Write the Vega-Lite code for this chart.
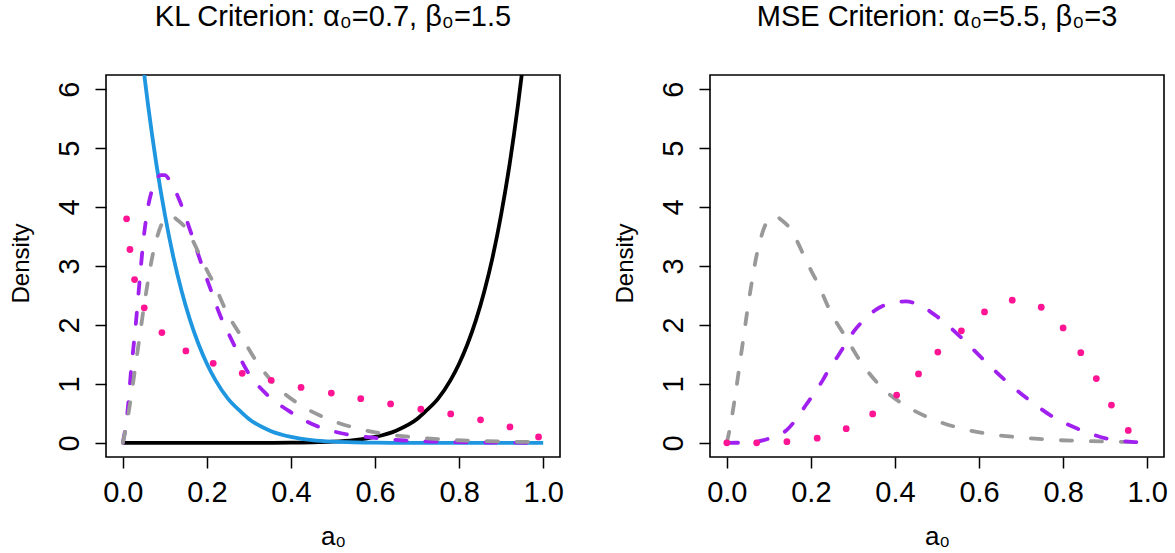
{
  "$schema": "https://vega.github.io/schema/vega-lite/v6.json",
  "background": "white",
  "padding": {"left": 8, "top": 2, "right": 0, "bottom": 0},
  "bounds": "flush",
  "spacing": 150,
  "config": {
    "font": "Liberation Sans",
    "view": {"stroke": "black", "strokeWidth": 1.6},
    "axis": {
      "grid": false, "domain": false, "tickColor": "black", "tickWidth": 1.5, "tickSize": 11,
      "labelColor": "black", "labelFont": "Liberation Sans", "labelFontSize": 29, "labelFlush": false, "labelOverlap": false,
      "titleFont": "Liberation Sans", "titleFontSize": 24, "titleFontWeight": "normal", "titleColor": "black"
    },
    "axisX": {"labelBaseline": "alphabetic", "labelPadding": 33, "titleX": 227, "titleY": 87.5, "titleBaseline": "alphabetic", "titleFontSize": 26},
    "axisY": {"labelAngle": -90, "labelAlign": "center", "labelBaseline": "alphabetic", "labelPadding": 16.5, "titleX": -77.7, "titleY": 188, "titleBaseline": "alphabetic", "titleAngle": -90, "titleAlign": "center"},
    "title": {"font": "Liberation Sans", "fontSize": 29, "fontWeight": "normal", "color": "black", "anchor": "middle", "frame": "group", "baseline": "alphabetic", "offset": 43}
  },
  "datasets": {
    "black": [
      {"a": 0, "d": 0}, {"a": 0.3, "d": 0.0002}, {"a": 0.4, "d": 0.0026}, {"a": 0.45, "d": 0.0076},
      {"a": 0.5, "d": 0.0195}, {"a": 0.55, "d": 0.046}, {"a": 0.6, "d": 0.101}, {"a": 0.65, "d": 0.207},
      {"a": 0.7, "d": 0.404}, {"a": 0.72, "d": 0.533}, {"a": 0.75, "d": 0.751}, {"a": 0.78, "d": 1.069},
      {"a": 0.8, "d": 1.342}, {"a": 0.82, "d": 1.676}, {"a": 0.84, "d": 2.082}, {"a": 0.86, "d": 2.573},
      {"a": 0.88, "d": 3.16}, {"a": 0.9, "d": 3.874}, {"a": 0.92, "d": 4.72}, {"a": 0.94, "d": 5.73},
      {"a": 0.95, "d": 6.302}, {"a": 0.96, "d": 6.925}, {"a": 0.98, "d": 8.337}, {"a": 1.0, "d": 10}
    ],
    "blue": [
      {"a": 0, "d": 10}, {"a": 0.02, "d": 8.337}, {"a": 0.04, "d": 6.925}, {"a": 0.05, "d": 6.302},
      {"a": 0.06, "d": 5.73}, {"a": 0.08, "d": 4.72}, {"a": 0.1, "d": 3.874}, {"a": 0.12, "d": 3.16},
      {"a": 0.14, "d": 2.573}, {"a": 0.16, "d": 2.082}, {"a": 0.18, "d": 1.676}, {"a": 0.2, "d": 1.342},
      {"a": 0.22, "d": 1.069}, {"a": 0.25, "d": 0.751}, {"a": 0.28, "d": 0.533}, {"a": 0.3, "d": 0.404},
      {"a": 0.35, "d": 0.207}, {"a": 0.4, "d": 0.101}, {"a": 0.45, "d": 0.046}, {"a": 0.5, "d": 0.0195},
      {"a": 0.55, "d": 0.0076}, {"a": 0.6, "d": 0.0026}, {"a": 0.7, "d": 0.0002}, {"a": 1.0, "d": 0}
    ],
    "purpleKL": [
      {"a": 0, "d": 0}, {"a": 0.01, "d": 0.45}, {"a": 0.02, "d": 1.25}, {"a": 0.03, "d": 1.95},
      {"a": 0.04, "d": 2.75}, {"a": 0.05, "d": 3.5}, {"a": 0.06, "d": 4.0}, {"a": 0.07, "d": 4.3},
      {"a": 0.08, "d": 4.47}, {"a": 0.09, "d": 4.54}, {"a": 0.1, "d": 4.54}, {"a": 0.11, "d": 4.47},
      {"a": 0.135, "d": 4.11}, {"a": 0.159, "d": 3.63}, {"a": 0.183, "d": 3.12}, {"a": 0.207, "d": 2.64},
      {"a": 0.23, "d": 2.19}, {"a": 0.262, "d": 1.7}, {"a": 0.294, "d": 1.24}, {"a": 0.341, "d": 0.83},
      {"a": 0.393, "d": 0.55}, {"a": 0.46, "d": 0.29}, {"a": 0.529, "d": 0.15}, {"a": 0.6, "d": 0.085},
      {"a": 0.671, "d": 0.04}, {"a": 0.743, "d": 0.02}, {"a": 0.814, "d": 0.01}, {"a": 0.9, "d": 0.004},
      {"a": 1.0, "d": 0}
    ],
    "gray": [
      {"a": 0, "d": 0}, {"a": 0.006, "d": 0.2}, {"a": 0.02, "d": 0.8}, {"a": 0.03, "d": 1.3},
      {"a": 0.04, "d": 1.8}, {"a": 0.05, "d": 2.3}, {"a": 0.06, "d": 2.75}, {"a": 0.07, "d": 3.15},
      {"a": 0.08, "d": 3.45}, {"a": 0.09, "d": 3.67}, {"a": 0.1, "d": 3.79}, {"a": 0.11, "d": 3.84},
      {"a": 0.12, "d": 3.83}, {"a": 0.13, "d": 3.78}, {"a": 0.15, "d": 3.64}, {"a": 0.17, "d": 3.38},
      {"a": 0.185, "d": 3.15}, {"a": 0.2, "d": 2.93}, {"a": 0.216, "d": 2.71}, {"a": 0.247, "d": 2.22},
      {"a": 0.284, "d": 1.78}, {"a": 0.32, "d": 1.36}, {"a": 0.37, "d": 0.93}, {"a": 0.43, "d": 0.61},
      {"a": 0.49, "d": 0.4}, {"a": 0.56, "d": 0.24}, {"a": 0.63, "d": 0.145}, {"a": 0.7, "d": 0.09},
      {"a": 0.77, "d": 0.053}, {"a": 0.84, "d": 0.033}, {"a": 0.91, "d": 0.021}, {"a": 1.0, "d": 0.012}
    ],
    "dotsKL": [
      {"a": 0.009, "d": 3.8}, {"a": 0.017, "d": 3.28}, {"a": 0.028, "d": 2.77}, {"a": 0.051, "d": 2.29},
      {"a": 0.093, "d": 1.87}, {"a": 0.15, "d": 1.56}, {"a": 0.215, "d": 1.35}, {"a": 0.284, "d": 1.18},
      {"a": 0.353, "d": 1.06}, {"a": 0.424, "d": 0.94}, {"a": 0.496, "d": 0.845}, {"a": 0.566, "d": 0.75},
      {"a": 0.637, "d": 0.66}, {"a": 0.709, "d": 0.57}, {"a": 0.78, "d": 0.49}, {"a": 0.851, "d": 0.39},
      {"a": 0.921, "d": 0.27}, {"a": 0.989, "d": 0.1}
    ],
    "purpleMSE": [
      {"a": 0, "d": 0}, {"a": 0.05, "d": 0.005}, {"a": 0.075, "d": 0.025}, {"a": 0.105, "d": 0.085},
      {"a": 0.143, "d": 0.22}, {"a": 0.166, "d": 0.41}, {"a": 0.189, "d": 0.65}, {"a": 0.204, "d": 0.8},
      {"a": 0.228, "d": 1.06}, {"a": 0.244, "d": 1.26}, {"a": 0.264, "d": 1.47}, {"a": 0.287, "d": 1.73},
      {"a": 0.303, "d": 1.9}, {"a": 0.327, "d": 2.09}, {"a": 0.355, "d": 2.26}, {"a": 0.386, "d": 2.36},
      {"a": 0.426, "d": 2.4}, {"a": 0.454, "d": 2.35}, {"a": 0.497, "d": 2.16}, {"a": 0.557, "d": 1.79},
      {"a": 0.608, "d": 1.43}, {"a": 0.661, "d": 1.07}, {"a": 0.715, "d": 0.75}, {"a": 0.774, "d": 0.45},
      {"a": 0.838, "d": 0.23}, {"a": 0.905, "d": 0.07}, {"a": 0.976, "d": 0.01}, {"a": 1.0, "d": 0}
    ],
    "dotsMSE": [
      {"a": 0.0, "d": 0.0}, {"a": 0.071, "d": 0.0}, {"a": 0.143, "d": 0.02}, {"a": 0.215, "d": 0.08},
      {"a": 0.284, "d": 0.24}, {"a": 0.347, "d": 0.49}, {"a": 0.404, "d": 0.81}, {"a": 0.456, "d": 1.17},
      {"a": 0.502, "d": 1.54}, {"a": 0.558, "d": 1.9}, {"a": 0.613, "d": 2.22}, {"a": 0.679, "d": 2.42},
      {"a": 0.748, "d": 2.3}, {"a": 0.8, "d": 1.95}, {"a": 0.842, "d": 1.53}, {"a": 0.879, "d": 1.09},
      {"a": 0.915, "d": 0.64}, {"a": 0.955, "d": 0.21}
    ]
  },
  "hconcat": [
    {
      "width": 454, "height": 382,
      "title": {"text": "KL Criterion: α₀=0.7, β₀=1.5"},
      "encoding": {
        "x": {"field": "a", "type": "quantitative", "scale": {"domain": [-0.04, 1.04], "nice": false, "zero": false},
              "axis": {"values": [0, 0.2, 0.4, 0.6, 0.8, 1], "format": ".1f", "title": "a₀"}},
        "y": {"field": "d", "type": "quantitative", "scale": {"domain": [-0.24, 6.24], "nice": false, "zero": false},
              "axis": {"values": [0, 1, 2, 3, 4, 5, 6], "format": "d", "title": "Density"}}
      },
      "layer": [
        {"data": {"name": "black"}, "mark": {"type": "line", "color": "black", "strokeWidth": 3.8, "clip": true, "interpolate": "monotone"}},
        {"data": {"name": "blue"}, "mark": {"type": "line", "color": "#1F96E0", "strokeWidth": 3.8, "clip": true, "interpolate": "monotone"}},
        {"data": {"name": "purpleKL"}, "mark": {"type": "line", "color": "#A020F0", "strokeWidth": 3.8, "strokeDash": [11.2, 18.8], "strokeCap": "round", "clip": true, "interpolate": "monotone"}},
        {"data": {"name": "gray"}, "mark": {"type": "line", "color": "#999999", "strokeWidth": 3.8, "strokeDash": [11.2, 18.8], "strokeCap": "round", "clip": true, "interpolate": "monotone"}},
        {"data": {"name": "dotsKL"}, "mark": {"type": "circle", "color": "#FF1493", "size": 46, "opacity": 1}}
      ]
    },
    {
      "width": 454, "height": 382,
      "title": {"text": "MSE Criterion: α₀=5.5, β₀=3"},
      "encoding": {
        "x": {"field": "a", "type": "quantitative", "scale": {"domain": [-0.04, 1.04], "nice": false, "zero": false},
              "axis": {"values": [0, 0.2, 0.4, 0.6, 0.8, 1], "format": ".1f", "title": "a₀"}},
        "y": {"field": "d", "type": "quantitative", "scale": {"domain": [-0.24, 6.24], "nice": false, "zero": false},
              "axis": {"values": [0, 1, 2, 3, 4, 5, 6], "format": "d", "title": "Density"}}
      },
      "layer": [
        {"data": {"name": "gray"}, "mark": {"type": "line", "color": "#999999", "strokeWidth": 3.8, "strokeDash": [11.2, 18.8], "strokeCap": "round", "clip": true, "interpolate": "monotone"}},
        {"data": {"name": "purpleMSE"}, "mark": {"type": "line", "color": "#A020F0", "strokeWidth": 3.8, "strokeDash": [11.2, 18.8], "strokeCap": "round", "clip": true, "interpolate": "monotone"}},
        {"data": {"name": "dotsMSE"}, "mark": {"type": "circle", "color": "#FF1493", "size": 46, "opacity": 1}}
      ]
    }
  ]
}
